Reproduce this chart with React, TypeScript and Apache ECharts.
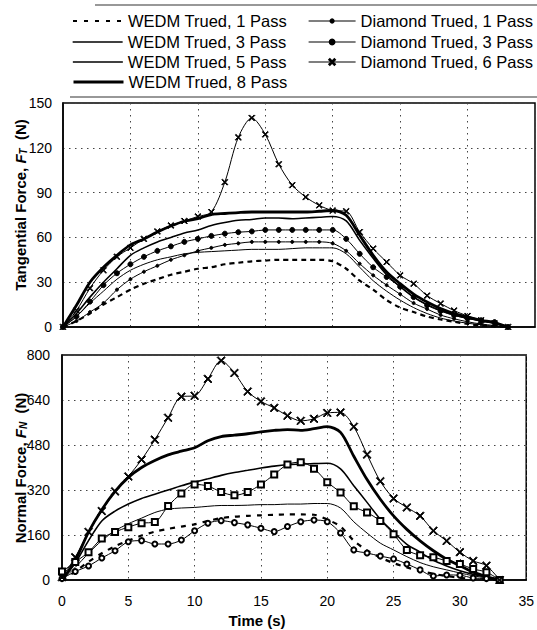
import React, { useEffect, useRef } from "react";
import * as echarts from "echarts";

const FONT = "'Liberation Sans', Arial, sans-serif";

const time = [0, 1, 2, 3, 4, 5, 6, 7, 8, 9, 10, 11, 12, 13, 14, 15, 16, 17, 18, 19, 20, 21, 22, 23, 24, 25, 26, 27, 28, 29, 30, 31, 32, 33];

const seriesNames = [
  "WEDM Trued, 1 Pass",
  "WEDM Trued, 3 Pass",
  "WEDM Trued, 5 Pass",
  "WEDM Trued, 8 Pass",
  "Diamond Trued, 1 Pass",
  "Diamond Trued, 3 Pass",
  "Diamond Trued, 6 Pass",
];

// Tangential force (N)
const ftW1 = [0, 4, 9, 15, 20, 25, 29, 32, 35, 37, 39, 40, 42, 43, 44, 44.5, 45, 45, 45, 45, 44, 39, 31, 25, 18, 13, 10, 7, 5, 3.5, 2, 1, 0.5, 0];
const ftW3 = [0, 7, 16, 24, 32, 38, 42, 45, 47, 49, 50, 50.5, 51, 51.5, 52, 52, 52, 52.5, 53, 53, 53, 49, 40, 31, 24, 18, 13, 9, 6, 4, 2.5, 1.5, 0.5, 0];
const ftW5 = [0, 9, 20, 30, 39, 48, 53, 57, 60, 63, 65, 68, 70, 71.5, 72, 73, 73, 72.5, 73, 73.5, 74, 71, 58, 46, 35, 27, 20, 15, 11, 8, 6, 4, 2.5, 0];
const ftW8 = [0, 14.5, 30, 40, 48, 55, 59, 63.6, 67.6, 70.8, 72.6, 75.3, 76, 76.6, 77, 77, 77, 77, 77, 77.5, 78, 74.8, 61.4, 48, 36.8, 29, 22, 16.7, 12.3, 9, 6.7, 4.5, 3, 0];
const ftD1 = [0, 4, 10, 16, 25, 32, 37, 41, 45, 48, 51, 53, 55, 56, 57, 57, 57, 57, 57, 57, 56, 51, 42.4, 34.6, 28, 22, 16, 12, 8, 5.5, 3.5, 2, 1, 0];
const ftD3 = [0, 7, 17, 28, 36, 42, 47, 51, 54, 57, 59, 61, 62.5, 63.5, 64, 65, 65, 65, 65, 65, 65, 59, 49, 40, 33.5, 27, 20, 14.5, 10.7, 7.8, 5.6, 4.5, 3.3, 0];
const ftD6 = [0, 11, 26, 38, 47, 53, 59, 64, 68, 71, 74, 77, 97, 127, 140, 129, 109, 95, 87, 81.5, 78, 77.5, 63.6, 52.5, 43.5, 34.6, 29, 21, 15.7, 11, 7.4, 4.5, 2.4, 0];

// Normal force (N)
const fnW1 = [0, 30, 65, 95, 120, 140, 158, 172, 182, 190, 198, 210, 220, 225, 228, 230, 232, 233, 233, 232, 215, 190, 140, 105, 80, 60, 45, 32, 22, 14, 8, 4, 1, 0];
const fnW3 = [0, 45, 95, 140, 175, 200, 220, 240, 252, 256, 258, 262, 265, 265, 266, 268, 268, 270, 270, 272, 272, 256, 207, 167, 131, 107, 83, 62, 47, 36, 25, 15, 7, 0];
const fnW5 = [0, 60, 140, 210, 245, 270, 290, 305, 320, 335, 348, 360, 372, 382, 390, 398, 405, 410, 412, 414, 415, 395, 335, 276, 216, 170, 127, 99, 70, 50, 33, 20, 10, 0];
const fnW8 = [0, 70, 170, 250, 315, 365, 400, 425, 445, 458, 470, 495, 510, 515, 520, 527, 532, 535, 532, 538, 545, 525, 440, 357, 287, 228, 180, 139, 104, 74, 51, 28, 12, 0];
const fnD1 = [5, 30, 50, 78, 104, 136, 140, 128, 128, 142, 175, 202, 211, 204, 196, 184, 172, 190, 207, 213, 207, 167, 107, 96, 85, 75, 57, 36, 14, 18, 17, 7, 5, 0];
const fnD3 = [30, 64, 99, 148, 171, 188, 202, 206, 263, 308, 340, 334, 313, 301, 313, 340, 375, 411, 419, 396, 348, 311, 262, 240, 210, 163, 107, 88, 81, 68, 57, 39, 28, 0];
const fnD6 = [10, 81, 171, 245, 315, 368, 428, 499, 577, 652, 655, 715, 780, 736, 670, 635, 612, 584, 566, 573, 594, 596, 545, 446, 351, 290, 258, 228, 175, 139, 99, 68, 51, 0];

const yTickTop = { min: 0, max: 150, interval: 30 };
const yTickBottom = { min: 0, max: 800, interval: 160 };
const xTick = { min: 0, max: 35, interval: 5 };

const XMARK = "path://M0,1L1,0L5,4L9,0L10,1L6,5L10,9L9,10L5,6L1,10L0,9L4,5Z";

function pairs(vals: number[]) {
  return time.map((t, i) => [t, vals[i]]);
}

type Style = {
  width: number;
  dash?: number[];
  symbol?: string;
  symbolSize?: number;
};

const styles: Style[] = [
  { width: 2.2, dash: [5, 4] },
  { width: 1 },
  { width: 1.6 },
  { width: 2.8 },
  { width: 1, symbol: "circle", symbolSize: 3 },
  { width: 1, symbol: "circle", symbolSize: 5 },
  { width: 1, symbol: XMARK, symbolSize: 6 },
];

const stylesBottom: Style[] = [
  { width: 2.2, dash: [5, 6] },
  { width: 1 },
  { width: 1.6 },
  { width: 2.8 },
  { width: 1, symbol: "emptyCircle", symbolSize: 5 },
  { width: 1, symbol: "emptyRect", symbolSize: 6 },
  { width: 1, symbol: XMARK, symbolSize: 8 },
];

// legend layout: [left, rowCenterY, itemWidth, itemHeight, showSymbol, lineWidth, dash]
const legendLayout: [number, number, number, number, boolean, number, number[] | null][] = [
  [72, 21, 50, 8, false, 2, [4, 7]],
  [72, 42, 50, 8, false, 1.3, null],
  [72, 62, 50, 8, false, 1.7, null],
  [72, 82, 50, 8, false, 3, null],
  [308, 21, 47, 4, true, 1.2, null],
  [308, 42, 47, 6, true, 1.2, null],
  [308, 62, 47, 7, true, 1.2, null],
];

function mk(name: string, vals: number[], g: number, s: Style) {
  return {
    type: "line",
    name,
    xAxisIndex: g,
    yAxisIndex: g,
    data: pairs(vals),
    smooth: 0.3,
    showSymbol: !!s.symbol,
    symbol: s.symbol || "none",
    symbolSize: s.symbolSize || 0,
    lineStyle: { color: "#000", width: s.width, type: s.dash ? s.dash : "solid" },
    itemStyle: { color: "#000", borderColor: "#000", borderWidth: 1 },
    emphasis: { disabled: true },
    z: 3,
  };
}

const gridLine = { show: true, lineStyle: { color: "#444", width: 1, type: [1.5, 4.5] } };
const axisLabel = { color: "#000", fontSize: 14, fontFamily: FONT };

export default function App() {
  const ref = useRef<HTMLDivElement>(null);
  useEffect(() => {
    if (!ref.current) return;
    const chart = echarts.init(ref.current, undefined, { renderer: "svg" });
    const topVals = [ftW1, ftW3, ftW5, ftW8, ftD1, ftD3, ftD6];
    const botVals = [fnW1, fnW3, fnW5, fnW8, fnD1, fnD3, fnD6];
    const series: any[] = [];
    topVals.forEach((v, i) => series.push(mk(seriesNames[i], v, 0, styles[i])));
    botVals.forEach((v, i) => series.push(mk(seriesNames[i], v, 1, stylesBottom[i])));

    const legendText = { color: "#000", fontSize: 16.5, lineHeight: 18, fontFamily: FONT };
    const legends = seriesNames.map((name, i) => {
      const [left, cy, w, h, sym, lw, dash] = legendLayout[i];
      const item: any = {
        name,
        lineStyle: { color: "#000", width: lw, type: dash ? dash : "solid" },
      };
      if (!sym) item.itemStyle = { opacity: 0 };
      return {
        data: [item],
        orient: "vertical",
        left,
        top: cy - 9,
        padding: 0,
        itemWidth: w,
        itemHeight: h,
        textStyle: legendText,
        selectedMode: false,
      };
    });

    const titleRich = {
      b: { fontSize: 15, fontWeight: "bold", fontFamily: FONT, color: "#000" },
      i: { fontSize: 15, fontWeight: "bold", fontStyle: "italic", fontFamily: FONT, color: "#000" },
      s: { fontSize: 10, fontWeight: "bold", fontStyle: "italic", fontFamily: FONT, color: "#000", padding: [7, 0, 0, 0] },
    };

    chart.setOption({
      animation: false,
      backgroundColor: "#fff",
      legend: legends,
      grid: [
        { left: 63, top: 103, width: 472, height: 224, show: true, borderColor: "#000", borderWidth: 1.5, backgroundColor: "transparent" },
        { left: 62, top: 355, width: 468, height: 225, show: true, borderColor: "#000", borderWidth: 1.5, backgroundColor: "transparent" },
      ],
      xAxis: [
        {
          type: "value", gridIndex: 0, ...xTick,
          axisLine: { show: true, lineStyle: { color: "#000", width: 1.5 } },
          axisTick: { show: false },
          axisLabel: { show: false },
          splitLine: gridLine,
        },
        {
          type: "value", gridIndex: 1, ...xTick,
          axisLine: { show: true, lineStyle: { color: "#000", width: 1.5 } },
          axisTick: { show: false },
          axisLabel: { ...axisLabel, margin: 14 },
          splitLine: gridLine,
        },
      ],
      yAxis: [
        {
          type: "value", gridIndex: 0, ...yTickTop,
          axisLine: { show: true, lineStyle: { color: "#000", width: 1.5 } },
          axisTick: { show: false },
          axisLabel: { ...axisLabel, margin: 11 },
          splitLine: gridLine,
        },
        {
          type: "value", gridIndex: 1, ...yTickBottom,
          axisLine: { show: true, lineStyle: { color: "#000", width: 1.5 } },
          axisTick: { show: false },
          axisLabel: { ...axisLabel, margin: 12 },
          splitLine: gridLine,
        },
      ],
      graphic: [
        { type: "line", shape: { x1: 95, y1: 5, x2: 537, y2: 5 }, style: { stroke: "#333", lineWidth: 1.2 } },
        { type: "line", shape: { x1: 70, y1: 97, x2: 537, y2: 97 }, style: { stroke: "#333", lineWidth: 1.2 } },
        {
          type: "text", x: 20, y: 205, rotation: Math.PI / 2,
          style: {
            text: "{b|Tangential Force, }{i|F}{s|T}{b|  (N)}",
            rich: titleRich, align: "center", verticalAlign: "middle",
          },
        },
        {
          type: "text", x: 20, y: 468, rotation: Math.PI / 2,
          style: {
            text: "{b|Normal Force, }{i|F}{s|N}{b|  (N)}",
            rich: titleRich, align: "center", verticalAlign: "middle",
          },
        },
        {
          type: "text", x: 257, y: 620,
          style: {
            text: "Time (s)", fontSize: 15, fontWeight: "bold", fontFamily: FONT, fill: "#000",
            align: "center", verticalAlign: "middle",
          },
        },
      ],
      series,
    });
    return () => chart.dispose();
  }, []);
  return (
    <div
      ref={ref}
      style={{ position: "fixed", left: 0, top: 0, width: 537, height: 630, background: "#fff" }}
    />
  );
}
